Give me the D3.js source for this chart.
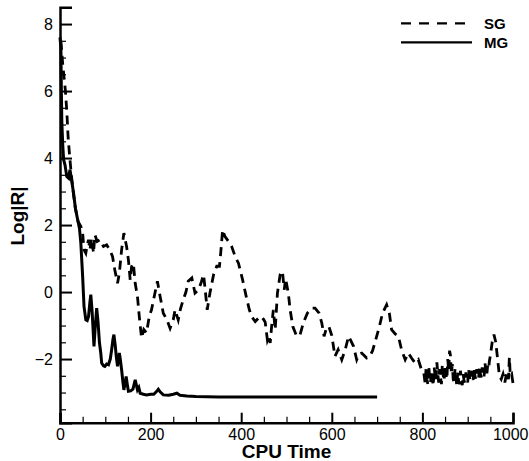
<!DOCTYPE html>
<html>
<head>
<meta charset="utf-8">
<script src="https://cdn.jsdelivr.net/npm/d3@7"></script>
<style>
  body { margin: 0; background: #fff; }
  svg { display: block; font-family: "Liberation Sans", Arial, sans-serif; }
</style>
</head>
<body>
<svg width="529" height="461"></svg>
<script>
// SG (single grid) residual history
const sgTime = [2, 6, 9, 12, 15, 18, 21, 25, 29, 34, 40, 46, 50, 53, 57, 60, 63, 66, 70, 74, 77, 82, 88, 92, 96, 103, 110, 116, 121, 127, 131, 136, 141, 147, 151, 155, 158, 162, 166, 171, 175, 180, 185, 191, 197, 202, 208, 215, 221, 228, 236, 243, 250, 254, 261, 266, 272, 278, 283, 291, 298, 306, 312, 317, 321, 325, 331, 339, 346, 352, 355, 359, 364, 372, 379, 387, 394, 403, 411, 418, 423, 431, 438, 445, 450, 453, 458, 462, 464, 468, 471, 475, 480, 486, 491, 495, 498, 504, 508, 514, 521, 529, 537, 546, 556, 563, 572, 578, 583, 589, 594, 600, 607, 614, 622, 630, 637, 642, 648, 655, 660, 666, 672, 677, 684, 690, 695, 705, 712, 721, 727, 732, 740, 747, 754, 762, 769, 776, 784, 791, 798, 803,
  806, 808, 810, 812, 814, 816, 818, 820, 822, 824, 826, 828, 830, 832, 834, 836, 838, 840, 842, 844, 846, 848, 850, 852, 854, 856, 858, 860, 862, 864, 866, 868, 870, 872, 874, 876, 878, 880, 882, 884, 886, 888, 890, 892, 894, 896, 898, 900, 902, 904, 906, 908, 910, 912, 914, 916, 918, 920, 922, 924, 926, 928, 930, 932, 934, 936, 938, 940, 942, 944, 946, 948, 950,
  954, 958, 962, 966, 970, 974, 978, 982, 986, 990, 992, 994, 997, 1000];
const sgRes = [7.5, 6.8, 6.4, 6.0, 5.4, 4.6, 4.1, 3.5, 3.0, 2.5, 2.1, 1.96, 1.76, 1.26, 1.16, 1.4, 1.56, 1.26, 1.61, 1.16, 1.71, 1.51, 1.56, 1.45, 1.36, 1.41, 1.26, 1.06, 0.66, 0.26, 0.56, 1.26, 1.76, 1.36, 0.96, 0.36, 0.76, 0.86, 0.26, -0.13, -0.73, -1.37, -1.12, -1.22, -0.73, -0.53, -0.13, 0.32, -0.13, -0.63, -0.83, -1.08, -0.83, -0.53, -0.83, -0.5, -0.23, 0.0, 0.32, 0.42, -0.03, 0.07, 0.3, 0.52, 0.0, -0.53, -0.03, 0.52, 0.77, 0.77, 1.2, 1.86, 1.66, 1.51, 1.36, 1.05, 0.86, 0.37, -0.13, -0.53, -0.73, -0.88, -0.78, -0.73, -0.83, -0.9, -1.45, -1.32, -1.52, -0.9, -0.53, -1.12, -0.03, 0.52, 0.62, 0.07, 0.4, -0.03, -0.53, -1.03, -1.27, -1.32, -0.93, -0.63, -0.48, -0.48, -0.63, -0.93, -1.32, -1.03, -1.05, -1.3, -1.92, -1.72, -2.02, -1.7, -1.32, -1.45, -1.62, -2.02, -1.85, -1.82, -1.9, -1.97, -1.92, -1.75, -1.52, -1.03, -0.63, -0.38, -0.63, -1.12, -1.25, -1.32, -1.72, -2.02, -1.82, -1.97, -2.12, -2.02, -2.32, -2.4,
  -2.72, -2.3, -2.6, -2.75, -2.2, -2.55, -2.7, -2.35, -2.6, -2.8, -2.25, -2.5, -2.65, -2.1, -2.45, -2.7, -2.3, -2.55, -2.75, -2.15, -2.5, -2.65, -2.2, -2.45, -2.6, -2.0, -2.35, -1.75, -1.9, -2.45, -2.15, -2.6, -2.7, -2.3, -2.55, -2.8, -2.4, -2.65, -2.75, -2.35, -2.6, -2.78, -2.45, -2.65, -2.72, -2.4, -2.6, -2.7, -2.3, -2.55, -2.65, -2.35, -2.5, -2.62, -2.25, -2.5, -2.6, -2.3, -2.45, -2.58, -2.2, -2.45, -2.55, -2.25, -2.4, -2.55, -2.1, -2.35, -2.5, -2.2, -2.3, -2.05, -1.9,
  -1.5, -1.27, -1.5, -2.0, -2.5, -2.6, -2.45, -2.7, -2.4, -2.6, -1.95, -2.5, -2.45, -2.72];

// MG (multigrid) residual history
const mgTime = [0, 2, 3, 4, 6, 8, 11, 15, 19, 22, 25, 30, 34, 39, 43, 46, 50, 53, 57, 60, 63, 66, 68, 71, 75, 78, 81, 84, 87, 90, 92, 96, 99, 103, 107, 111, 114, 117, 119, 122, 124, 127, 131, 133, 136, 139, 141, 144, 146, 149, 151, 156, 161, 166, 169, 171, 174, 177, 184, 191, 200, 207, 213, 217, 221, 228, 240, 250, 258, 265, 280, 300, 350, 450, 700];
const mgRes = [7.6, 7.3, 6.0, 5.1, 4.4, 3.95, 3.8, 3.45, 3.4, 3.65, 3.4, 2.95, 2.5, 2.16, 1.9, 1.46, 0.46, -0.43, -0.83, -0.85, -0.73, -0.3, -0.08, -0.6, -1.62, -1.0, -0.48, -0.9, -1.5, -1.82, -2.12, -2.2, -2.22, -2.15, -2.17, -2.0, -1.72, -1.4, -1.27, -1.6, -1.9, -2.22, -1.82, -2.0, -2.32, -2.7, -2.92, -2.7, -2.52, -2.8, -2.96, -2.95, -2.9, -2.62, -2.8, -2.92, -2.85, -3.02, -3.05, -3.07, -3.05, -3.05, -2.97, -2.9, -2.98, -3.07, -3.08, -3.05, -3.02, -3.08, -3.1, -3.12, -3.13, -3.13, -3.13];

const xMajor = [0, 200, 400, 600, 800, 1000];
const yMajor = [-2, 0, 2, 4, 6, 8];
const legendNames = ["SG", "MG"];

const svg = d3.select("svg");

const xScale = d3.scaleLinear()
  .domain([0, 1000])
  .range([60, 513]);

const yScale = d3.scaleLinear()
  .domain([-3.9, 8.5])
  .range([422.7, 7.3]);

const xMinor = d3.range(0, 1001, 50).filter(v => !xMajor.includes(v));
const yMinor = d3.range(-3.5, 8.01, 0.5).filter(v => !yMajor.includes(v));

// curves
const line = d3.line()
  .x(d => xScale(d[0]))
  .y(d => yScale(d[1]));

const sgData = sgTime.map((t, i) => [t, sgRes[i]]);
const mgData = mgTime.map((t, i) => [t, mgRes[i]]);

svg.append('path')
  .attr('d', line(sgData))
  .attr('fill', 'none')
  .attr('stroke', '#000')
  .attr('stroke-width', 2.8)
  .attr('stroke-dasharray', '9,6');

svg.append('path')
  .attr('d', line(mgData))
  .attr('fill', 'none')
  .attr('stroke', '#000')
  .attr('stroke-width', 3);

// axes, ticks pointing inward
const xAxis = d3.axisBottom(xScale)
  .tickValues(xMajor)
  .tickSize(-10)
  .tickPadding(6)
  .tickFormat(d3.format('d'));
const gx = svg.append('g')
  .attr('transform', `translate(0, ${yScale(-3.9)})`)
  .call(xAxis);

// last label sits at the very edge, keep it inside the frame
gx.selectAll('.tick text')
  .filter(d => d === 1000)
  .attr('text-anchor', 'end')
  .attr('dx', 528 - xScale(1000));

svg.append('g')
  .attr('transform', `translate(0, ${yScale(-3.9)})`)
  .call(d3.axisBottom(xScale).tickValues(xMinor).tickSize(-6).tickFormat(''))
  .call(g => g.select('.domain').remove());

const yAxis = d3.axisLeft(yScale)
  .tickValues(yMajor)
  .tickSize(-12)
  .tickPadding(7)
  .tickFormat(d3.format('d'));
const gy = svg.append('g')
  .attr('transform', `translate(${xScale(0)}, 0)`)
  .call(yAxis);

svg.append('g')
  .attr('transform', `translate(${xScale(0)}, 0)`)
  .call(d3.axisLeft(yScale).tickValues(yMinor).tickSize(-6).tickFormat(''))
  .call(g => g.select('.domain').remove());

svg.selectAll('.domain')
  .attr('stroke-width', 2.5)
  .attr('stroke', '#000');
svg.selectAll('.tick line')
  .attr('stroke', '#000')
  .attr('stroke-width', 1.2);
gx.selectAll('.tick line').attr('stroke-width', 2);
gy.selectAll('.tick line').attr('stroke-width', 2);

svg.selectAll('.tick text')
  .attr('font-family', '"Liberation Sans", Arial, sans-serif')
  .attr('font-size', 16)
  .attr('fill', '#000');

// axis titles
svg.append('text')
  .attr('x', (xScale(0) + xScale(1000)) / 2)
  .attr('y', 458)
  .attr('text-anchor', 'middle')
  .attr('font-size', 19)
  .attr('font-weight', 'bold')
  .text('CPU Time');

svg.append('text')
  .attr('transform', `translate(24, 216) rotate(-90)`)
  .attr('text-anchor', 'middle')
  .attr('font-size', 19)
  .attr('font-weight', 'bold')
  .text('Log|R|');

// legend
const legend = svg.append('g');
legendNames.forEach((name, i) => {
  const ly = 23.3 + i * 19;
  legend.append('line')
    .attr('x1', 401).attr('x2', 472)
    .attr('y1', ly).attr('y2', ly)
    .attr('stroke', '#000')
    .attr('stroke-width', 2.2)
    .attr('stroke-dasharray', i === 0 ? '10,8' : null);
  legend.append('text')
    .attr('x', 484)
    .attr('y', ly)
    .attr('dy', '0.35em')
    .attr('font-size', 15)
    .attr('font-weight', 'bold')
    .text(name);
});
</script>
</body>
</html>
